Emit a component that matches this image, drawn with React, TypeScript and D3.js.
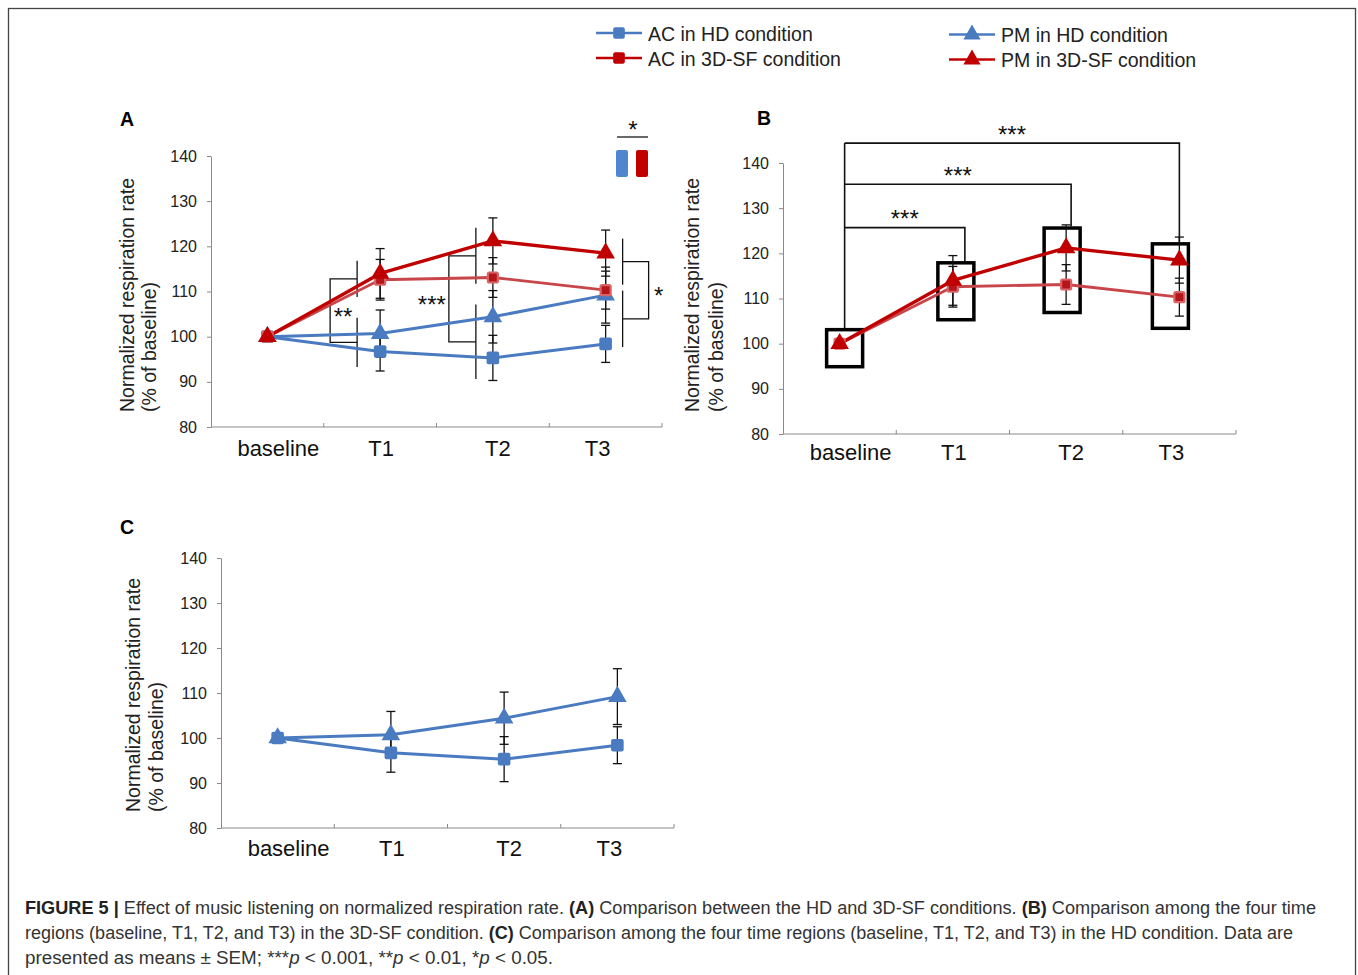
import React, { useEffect, useRef } from 'react'
import * as d3 from 'd3'

const categories = ['baseline', 'T1', 'T2', 'T3']
const yTicks = [80, 90, 100, 110, 120, 130, 140]

// means and SEM (% of baseline)
const acHD = [100, 96.7, 95.3, 98.4]
const acHDSem = [0, 4.3, 5.0, 4.1]
const pmHD = [100, 100.7, 104.4, 109.2]
const pmHDSem = [0, 5.2, 5.8, 6.2]
const ac3D = [100, 112.6, 113.1, 110.3]
const ac3DSem = [0, 4.5, 4.4, 4.2]
const pm3D = [100, 114.0, 121.2, 118.5]
const pm3DSem = [0, 5.5, 5.1, 5.1]

// panel A: HD vs 3D-SF group comparisons
const groupTests = [
  { cat: 'T1', label: '**', hi: [108.8, 116.8], lo: [93.3, 104.2] },
  { cat: 'T2', label: '***', hi: [111.7, 124.1], lo: [90.6, 107.1] },
  { cat: 'T3', label: '*', hi: [111.5, 121.7], lo: [97.7, 110.2] },
]
// panel B: boxes per time region and tests against baseline
const boxRanges = [[94.9, 103.1], [105.3, 117.9], [106.9, 125.6], [103.4, 122.1]]
const baselineTests = [
  { cat: 'T1', label: '***', level: 125.7 },
  { cat: 'T2', label: '***', level: 135.3 },
  { cat: 'T3', label: '***', level: 144.4 },
]

const legendItems = [
  { name: 'AC in HD condition', key: 'acHD' },
  { name: 'AC in 3D-SF condition', key: 'ac3D' },
  { name: 'PM in HD condition', key: 'pmHD' },
  { name: 'PM in 3D-SF condition', key: 'pm3D' },
]

const captionLines = [
  [['FIGURE 5 | ', 'b'], ['Effect of music listening on normalized respiration rate. ', ''], ['(A)', 'b'], [' Comparison between the HD and 3D-SF conditions. ', ''], ['(B)', 'b'], [' Comparison among the four time', '']],
  [['regions (baseline, T1, T2, and T3) in the 3D-SF condition. ', ''], ['(C)', 'b'], [' Comparison among the four time regions (baseline, T1, T2, and T3) in the HD condition. Data are', '']],
  [['presented as means \u00b1 SEM; ***', ''], ['p', 'i'], [' < 0.001, **', ''], ['p', 'i'], [' < 0.01, *', ''], ['p', 'i'], [' < 0.05.', '']],
]

const BLUE = '#4a7bc0'
const RED = '#c00000'
const LRED = '#c8464a'
const FONT = '"Liberation Sans", Arial, sans-serif'

const styles: any = {
  acHD: { values: acHD, sem: acHDSem, color: BLUE, marker: 'square', width: 3 },
  pmHD: { values: pmHD, sem: pmHDSem, color: BLUE, marker: 'triangle', width: 3 },
  ac3D: { values: ac3D, sem: ac3DSem, color: LRED, marker: 'square3d', width: 2.8 },
  pm3D: { values: pm3D, sem: pm3DSem, color: RED, marker: 'triangle', width: 3.4 },
}

function drawMarker(g: any, type: string, x: number, y: number, color: string, size = 1) {
  if (type === 'triangle') {
    g.append('path').attr('d', d3.symbol(d3.symbolTriangle, 150 * size)())
      .attr('transform', `translate(${x},${y})`).attr('fill', color)
  } else if (type === 'square3d') {
    g.append('rect').attr('x', x - 5).attr('y', y - 5).attr('width', 10).attr('height', 10)
      .attr('rx', 1.5).attr('fill', '#b5161c').attr('stroke', '#d96466').attr('stroke-width', 2.2)
  } else {
    const h = 6.3 * Math.sqrt(size)
    g.append('rect').attr('x', x - h).attr('y', y - h).attr('width', 2 * h).attr('height', 2 * h)
      .attr('rx', 2).attr('fill', color)
  }
}

function star(g: any, x: number, cy: number, label: string, fs = 22) {
  g.append('text').attr('x', x).attr('y', cy + fs * 0.58).attr('text-anchor', 'middle')
    .attr('font-size', fs).attr('font-family', FONT).attr('fill', '#111').text(label)
}

function drawPanel(svg: any, cfg: any) {
  const { x0, x1, yTop, yBot, keys, letter, letterPos, labelDy, ylab } = cfg
  const g = svg.append('g')
  const x = d3.scaleBand().domain(categories).range([x0, x1])
  const bw = x.bandwidth()
  const cx = (c: string) => (x(c) as number) + bw / 2
  const y = d3.scaleLinear().domain([80, 140]).range([yBot, yTop])

  // axes
  const ax = g.append('g').attr('transform', `translate(${x0},0)`)
    .call(d3.axisLeft(y).tickValues(yTicks).tickSize(4).tickSizeOuter(0).tickPadding(10))
  ax.selectAll('path,line').attr('stroke', '#8a8a8a')
  ax.selectAll('text').attr('font-size', 16).attr('font-family', FONT).attr('fill', '#222')
  g.append('line').attr('x1', x0).attr('x2', x1).attr('y1', yBot).attr('y2', yBot).attr('stroke', '#8a8a8a')
  categories.slice(1).concat(['end']).forEach((c) => {
    const xx = c === 'end' ? x1 : (x(c) as number)
    g.append('line').attr('x1', xx).attr('x2', xx).attr('y1', yBot).attr('y2', yBot - 4).attr('stroke', '#8a8a8a')
  })
  const labelDx = [11, 1, 5, -8]
  categories.forEach((c, i) => {
    g.append('text').attr('x', cx(c) + labelDx[i]).attr('y', yBot + labelDy).attr('text-anchor', 'middle')
      .attr('font-size', 22).attr('font-family', FONT).attr('fill', '#111').text(c)
  })
  // y label
  ;[['Normalized respiration rate', ylab[0]], ['(% of baseline)', ylab[1]]].forEach(([t, xx]: any) => {
    g.append('text').attr('transform', `translate(${xx},${ylab[2]}) rotate(-90)`)
      .attr('font-size', 19.5).attr('font-family', FONT).attr('fill', '#222').text(t)
  })
  g.append('text').attr('x', letterPos[0]).attr('y', letterPos[1]).attr('font-size', 19.5)
    .attr('font-weight', 'bold').attr('font-family', FONT).attr('fill', '#000').text(letter)

  if (cfg.extra) cfg.extra(g, x, y, cx)

  // lines
  keys.forEach((k: string) => {
    const s = styles[k]
    const line = d3.line<number>().x((_, i) => cx(categories[i])).y((d) => y(d))
    g.append('path').attr('d', line(s.values)).attr('fill', 'none').attr('stroke', s.color)
      .attr('stroke-width', s.width).attr('stroke-linejoin', 'round')
  })
  // error bars
  keys.forEach((k: string) => {
    const s = styles[k]
    s.values.forEach((v: number, i: number) => {
      if (!s.sem[i]) return
      const xx = cx(categories[i])
      const eb = g.append('g').attr('stroke', '#111').attr('stroke-width', 1.3)
      eb.append('line').attr('x1', xx).attr('x2', xx).attr('y1', y(v - s.sem[i])).attr('y2', y(v + s.sem[i]))
      ;[v - s.sem[i], v + s.sem[i]].forEach((e) => {
        eb.append('line').attr('x1', xx - 4.5).attr('x2', xx + 4.5).attr('y1', y(e)).attr('y2', y(e))
      })
    })
  })
  // markers
  keys.forEach((k: string) => {
    const s = styles[k]
    s.values.forEach((v: number, i: number) => drawMarker(g, s.marker, cx(categories[i]), y(v), s.color))
  })
}

function App() {
  const ref = useRef<SVGSVGElement | null>(null)

  useEffect(() => {
    const svg = d3.select(ref.current)
    svg.selectAll('*').remove()

    svg.append('rect').attr('x', 8.5).attr('y', 8.5).attr('width', 1347).attr('height', 1000)
      .attr('fill', '#fff').attr('stroke', '#444').attr('stroke-width', 1.3)

    // legend
    legendItems.forEach((it, i) => {
      const col = Math.floor(i / 2)
      const row = i % 2
      const lx = col === 0 ? 596 : 949
      const ly = 33 + row * 25 + col * 1.5
      const s = styles[it.key]
      const c = it.key === 'ac3D' ? RED : s.color
      svg.append('line').attr('x1', lx).attr('x2', lx + 46).attr('y1', ly).attr('y2', ly)
        .attr('stroke', c).attr('stroke-width', 2.4)
      const mk = s.marker === 'square3d' ? 'square' : s.marker
      drawMarker(svg, mk, lx + 23, ly, c, 0.85)
      svg.append('text').attr('x', lx + 52).attr('y', ly + 7.5).attr('font-size', 19.5)
        .attr('font-family', FONT).attr('fill', '#222').text(it.name)
    })

    // panel A
    drawPanel(svg, {
      x0: 211, x1: 662, yTop: 156, yBot: 427, keys: ['acHD', 'pmHD', 'ac3D', 'pm3D'],
      letter: 'A', letterPos: [120, 126], labelDy: 29, ylab: [134, 156, 412],
      extra: (g: any, x: any, y: any, cx: any) => {
        const lineDx = [-23, -17, 17]
        const brDx = [-27, -27, 26]
        const labDx = [-14, -44, 36]
        groupTests.forEach((t, i) => {
          const gx = cx(t.cat) + lineDx[i]
          const bx = gx + brDx[i]
          const st = g.append('g').attr('stroke', '#111').attr('stroke-width', 1.3)
          st.append('line').attr('x1', gx).attr('x2', gx).attr('y1', y(t.hi[0])).attr('y2', y(t.hi[1]))
          st.append('line').attr('x1', gx).attr('x2', gx).attr('y1', y(t.lo[0])).attr('y2', y(t.lo[1]))
          const mh = (t.hi[0] + t.hi[1]) / 2
          const ml = (t.lo[0] + t.lo[1]) / 2
          st.append('path').attr('fill', 'none')
            .attr('d', `M${gx},${y(mh)}H${bx}V${y(ml)}H${gx}`)
          star(g, gx + labDx[i], y((mh + ml) / 2), t.label, 24)
        })
        // condition main effect
        star(g, 633, 124, '*', 24)
        g.append('line').attr('x1', 617).attr('x2', 648).attr('y1', 137).attr('y2', 137)
          .attr('stroke', '#444').attr('stroke-width', 1.6)
        g.append('rect').attr('x', 616).attr('y', 150).attr('width', 12).attr('height', 27).attr('rx', 2).attr('fill', '#4f86cf')
        g.append('rect').attr('x', 636).attr('y', 150).attr('width', 12).attr('height', 27).attr('rx', 2).attr('fill', RED)
      },
    })

    // panel B
    drawPanel(svg, {
      x0: 783, x1: 1236, yTop: 163, yBot: 434, keys: ['ac3D', 'pm3D'],
      letter: 'B', letterPos: [757, 125], labelDy: 26, ylab: [699, 723, 412],
      extra: (g: any, x: any, y: any, cx: any) => {
        const boxDx = [5, 3, -4, -9]
        const boxW = 36
        const bcx = categories.map((c, i) => cx(c) + boxDx[i])
        boxRanges.forEach((r, i) => {
          g.append('rect').attr('x', bcx[i] - boxW / 2).attr('y', y(r[1])).attr('width', boxW)
            .attr('height', y(r[0]) - y(r[1])).attr('fill', 'none').attr('stroke', '#000').attr('stroke-width', 3.5)
        })
        const st = g.append('g').attr('stroke', '#111').attr('stroke-width', 1.6).attr('fill', 'none')
        const top = d3.max(baselineTests, (t) => t.level) as number
        st.append('line').attr('x1', bcx[0]).attr('x2', bcx[0]).attr('y1', y(boxRanges[0][1]) - 1.5).attr('y2', y(top))
        baselineTests.forEach((t) => {
          const i = categories.indexOf(t.cat)
          const dx = bcx[i] + 9
          st.append('path').attr('d', `M${bcx[0]},${y(t.level)}H${dx}V${y(boxRanges[i][1]) - 1.5}`)
          star(g, (bcx[0] + dx) / 2, y(t.level) - 14.5, t.label, 24)
        })
      },
    })

    // panel C
    drawPanel(svg, {
      x0: 221, x1: 674, yTop: 558, yBot: 828, keys: ['pmHD', 'acHD'],
      letter: 'C', letterPos: [120, 534], labelDy: 28, ylab: [140, 163, 812],
    })

    // caption
    captionLines.forEach((parts, li) => {
      const t = svg.append('text').attr('x', 25).attr('y', 914 + li * 25).attr('font-size', 17.5)
        .attr('font-family', '"Liberation Sans Narrow", "Liberation Sans", Arial, sans-serif')
        .attr('fill', '#333').style('white-space', 'pre')
      const widths = [1291, 1268, 528]
      t.attr('textLength', widths[li]).attr('lengthAdjust', 'spacingAndGlyphs')
      parts.forEach(([txt, f]) => {
        const sp = t.append('tspan').text(txt)
        if (f === 'b') sp.attr('font-weight', 'bold').attr('fill', '#222')
        if (f === 'i') sp.attr('font-style', 'italic')
      })
    })
  }, [])

  return (
    <div style={{ position: 'absolute', left: 0, top: 0 }}>
      <svg ref={ref} width={1358} height={975} style={{ display: 'block' }} />
    </div>
  )
}

export default App
